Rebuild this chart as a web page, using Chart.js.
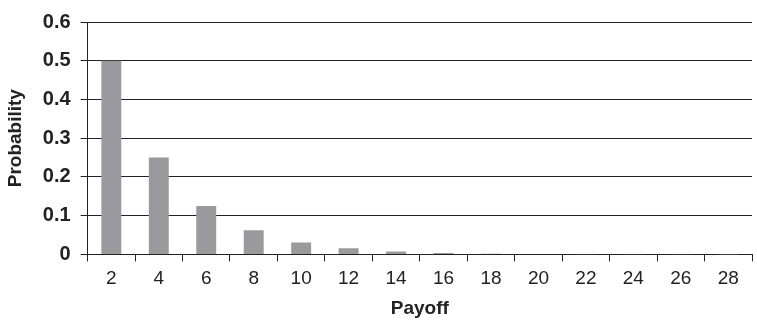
<!DOCTYPE html>
<html>
<head>
<meta charset="utf-8">
<script src="https://cdn.jsdelivr.net/npm/chart.js@4"></script>
<style>
  html, body { margin: 0; padding: 0; background: #fff; }
</style>
</head>
<body>
<canvas id="chart-area" width="757" height="323"></canvas>
<script>
var payoffs = ['2', '4', '6', '8', '10', '12', '14', '16', '18', '20', '22', '24', '26', '28'];
var probabilities = [0.5, 0.25, 0.125, 0.0625, 0.031, 0.0156, 0.0078, 0.0039, 0.002, 0.001, 0.0005, 0.0002, 0.0001, 0.00006];

window.onload = function() {
  var ctx = document.getElementById('chart-area').getContext('2d');
  var config = {
    type: 'bar',
    data: {
      labels: payoffs,
      datasets: [{
        data: probabilities,
        backgroundColor: '#9a9a9e',
        categoryPercentage: 1,
        barPercentage: 0.42
      }]
    },
    options: {
      responsive: false,
      animation: false,
      layout: { padding: { top: 2, right: 5, left: 4, bottom: 3 } },
      plugins: {
        legend: { display: false },
        tooltip: { enabled: false }
      },
      scales: {
        x: {
          grid: {
            offset: true,
            drawOnChartArea: false,
            drawTicks: true,
            tickLength: 7,
            color: '#222'
          },
          border: { color: '#222', width: 1 },
          ticks: {
            color: '#222',
            padding: 6,
            maxRotation: 0,
            font: { family: 'Liberation Sans', size: 19 }
          },
          title: {
            display: true,
            text: 'Payoff',
            color: '#222',
            padding: { top: 1, bottom: 0 },
            font: { family: 'Liberation Sans', size: 19, weight: 'bold' }
          }
        },
        y: {
          min: 0,
          max: 0.6,
          grid: {
            color: '#222',
            lineWidth: 1,
            tickLength: 7
          },
          border: { color: '#222', width: 1 },
          ticks: {
            stepSize: 0.1,
            color: '#222',
            padding: 10,
            font: { family: 'Liberation Sans', size: 20, weight: 'bold' }
          },
          title: {
            display: true,
            text: 'Probability',
            color: '#222',
            padding: { top: 0, bottom: 6 },
            font: { family: 'Liberation Sans', size: 19, weight: 'bold' }
          }
        }
      }
    }
  };
  window.myBar = new Chart(ctx, config);
};
</script>
</body>
</html>
